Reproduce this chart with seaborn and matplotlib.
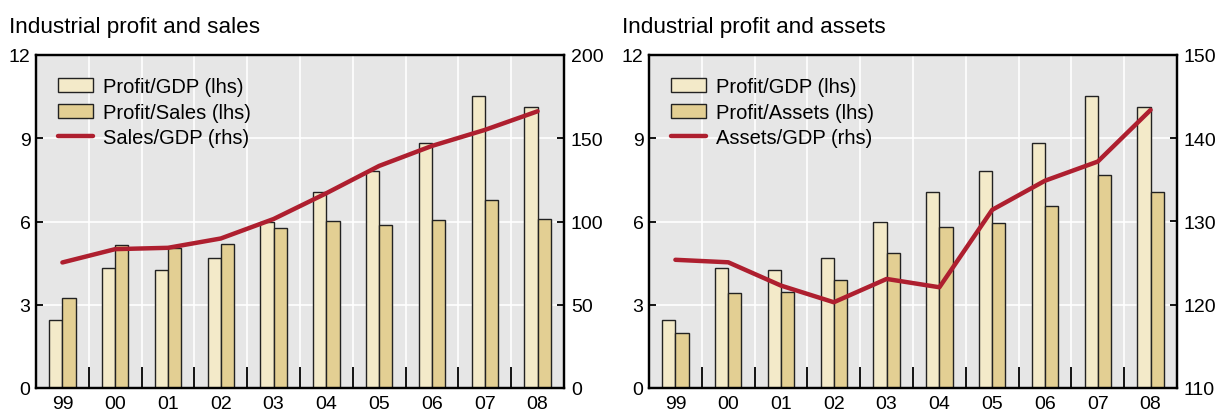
import numpy as np
import pandas as pd
import matplotlib.pyplot as plt
import seaborn as sns
from matplotlib.patches import Patch
from matplotlib.lines import Line2D

years = ['99', '00', '01', '02', '03', '04', '05', '06', '07', '08']
profit_gdp = [2.45, 4.31, 4.26, 4.67, 5.99, 7.07, 7.82, 8.84, 10.52, 10.14]
profit_sales = [3.26, 5.17, 5.04, 5.20, 5.78, 6.02, 5.86, 6.07, 6.78, 6.10]
sales_gdp = [75.4, 83.4, 84.2, 89.8, 101.5, 117.0, 133.4, 145.4, 155.0, 166.2]
profit_assets = [1.97, 3.44, 3.47, 3.88, 4.88, 5.81, 5.96, 6.56, 7.68, 7.07]
assets_gdp = [125.4, 125.1, 122.3, 120.3, 123.1, 122.1, 131.4, 134.9, 137.2, 143.4]

light = '#F3EAC9'
dark = '#E3CF93'
red = '#AE1F2F'
bg = '#E6E6E6'

sns.set_style('ticks')
plt.rcParams['font.family'] = ['Liberation Sans', 'DejaVu Sans']
plt.rcParams['font.size'] = 14
plt.rcParams['text.color'] = 'black'
plt.rcParams['xtick.color'] = 'black'
plt.rcParams['ytick.color'] = 'black'
plt.rcParams['xtick.labelcolor'] = 'black'
plt.rcParams['ytick.labelcolor'] = 'black'


def draw_panel(ax, bar2, bar2_label, line, line_label, rlim, rticks):
    df = pd.DataFrame({
        'year': years * 2,
        'value': profit_gdp + bar2,
        'series': ['Profit/GDP (lhs)'] * len(years) + [bar2_label] * len(years),
    })
    ax.set_facecolor(bg)
    ax.set_axisbelow(True)
    sns.barplot(data=df, x='year', y='value', hue='series', palette=[light, dark],
                width=0.5, saturation=1, edgecolor='#222222', linewidth=1,
                legend=False, ax=ax)
    ax.set_xlabel('')
    ax.set_ylabel('')
    ax.set_ylim(0, 12)
    ax.set_yticks(range(0, 13, 3))
    ax.set_xticks(np.arange(0.5, len(years) - 1, 1), minor=True)
    ax.tick_params(axis='x', which='major', length=0, pad=5, labelsize=14)
    ax.tick_params(axis='x', which='minor', direction='in', length=15, width=1.3, color='black')
    ax.tick_params(axis='y', direction='in', length=5, width=1.3, pad=4, labelsize=14)
    ax.grid(axis='y', which='major', color='white', lw=1.2)
    ax.grid(axis='x', which='minor', color='white', lw=1.2)

    ax2 = ax.twinx()
    sns.lineplot(x=np.arange(len(years)), y=line, color=red, lw=3.2, ax=ax2)
    ax2.set_ylim(*rlim)
    ax2.set_yticks(rticks)
    ax2.tick_params(axis='y', direction='in', length=5, width=1.3, pad=5, labelsize=14)
    ax.set_xlim(-0.5, len(years) - 0.5)
    for a in (ax, ax2):
        for s in a.spines.values():
            s.set_visible(True)
            s.set_color('black')
            s.set_linewidth(1.6)

    handles = [Patch(facecolor=light, edgecolor='#222222', lw=1),
               Patch(facecolor=dark, edgecolor='#222222', lw=1),
               Line2D([], [], color=red, lw=3.2)]
    labels = ['Profit/GDP (lhs)', bar2_label, line_label]
    ax2.legend(handles, labels, loc='upper left', frameon=False, fontsize=14.5,
               handlelength=1.75, handleheight=0.7, labelspacing=0.33,
               handletextpad=0.5, borderaxespad=0.7, bbox_to_anchor=(0.0, 1.0))
    return ax2


fig = plt.figure(figsize=(12.18, 4.14), dpi=100)
ax_l = fig.add_axes([36 / 1218, 1 - 389 / 414, 528 / 1218, 333 / 414])
ax_r = fig.add_axes([649 / 1218, 1 - 389 / 414, 528 / 1218, 333 / 414])

draw_panel(ax_l, profit_sales, 'Profit/Sales (lhs)',
           sales_gdp, 'Sales/GDP (rhs)', (0, 200), range(0, 201, 50))
draw_panel(ax_r, profit_assets, 'Profit/Assets (lhs)',
           assets_gdp, 'Assets/GDP (rhs)', (110, 150), range(110, 151, 10))

fig.text(9 / 1218, 1 - 27 / 414, 'Industrial profit and sales', va='center', ha='left', fontsize=16.2)
fig.text(622 / 1218, 1 - 27 / 414, 'Industrial profit and assets', va='center', ha='left', fontsize=16.2)

fig.savefig('out.png', dpi=100)
